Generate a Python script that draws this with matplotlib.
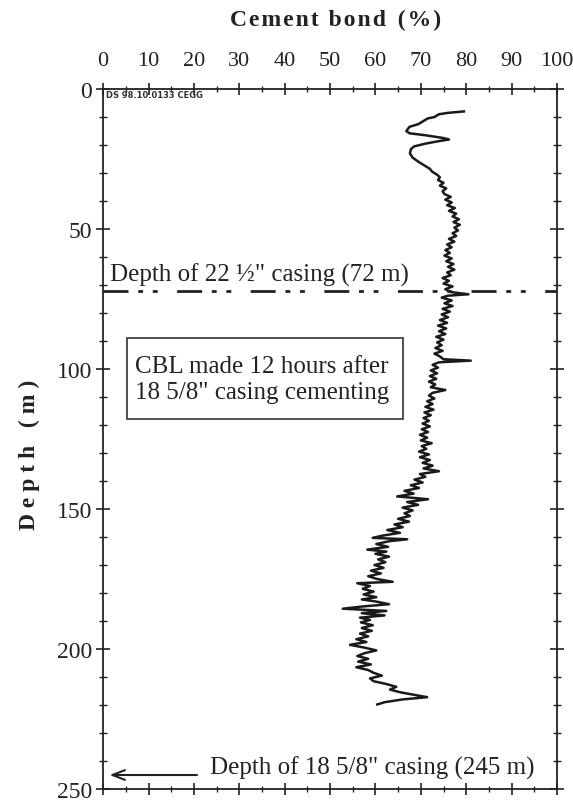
import matplotlib
matplotlib.use("Agg")
import matplotlib.pyplot as plt
from matplotlib.ticker import MultipleLocator
from matplotlib.patches import Rectangle

plt.rcParams['font.family'] = ['Liberation Serif', 'DejaVu Serif']
plt.rcParams['lines.scale_dashes'] = False

depth = [8.0, 8.5, 9.0, 10.0, 10.5, 11.5, 12.5, 13.5, 15.0, 15.8,
         16.5, 17.5, 18.0, 18.6, 19.5, 20.5, 21.5, 23.0, 24.5, 26.0,
         27.5, 28.5, 29.5, 30.5, 31.5, 32.5, 33.5, 34.5, 35.5, 36.5,
         37.5, 38.5, 39.5, 40.5, 41.5, 42.5, 43.5, 44.5, 45.5, 46.5,
         47.5, 48.5, 49.5, 50.5, 51.5, 52.5, 53.5, 54.5, 55.5, 56.5,
         57.5, 58.5, 59.5, 60.5, 61.5, 62.5, 63.5, 64.5, 65.5, 66.5,
         67.5, 68.5, 69.5, 70.5, 71.5, 72.5, 73.3, 73.8, 74.5, 75.5,
         76.5, 77.5, 78.5, 79.5, 80.5, 81.5, 82.5, 83.5, 84.5, 85.5,
         86.5, 87.5, 88.5, 89.5, 90.5, 91.5, 92.5, 93.5, 94.5, 95.5,
         96.5, 97.0, 97.6, 98.5, 99.5, 100.5, 101.5, 102.5, 103.5, 104.5,
         105.5, 106.5, 107.5, 108.5, 109.5, 110.5, 111.5, 112.5, 113.5, 114.5,
         115.5, 116.5, 117.5, 118.5, 119.5, 120.5, 121.5, 122.5, 123.5, 124.5,
         125.5, 126.5, 127.5, 128.5, 129.5, 130.5, 131.5, 132.5, 133.5, 134.5,
         135.5, 136.5, 137.5, 138.5, 139.5, 140.5, 141.5, 142.5, 143.5, 144.5,
         145.5, 146.5, 147.5, 148.5, 149.5, 150.5, 151.5, 152.5, 153.5, 154.5,
         155.5, 156.5, 157.5, 158.5, 159.5, 160.3, 160.8, 161.5, 162.5, 163.5,
         164.5, 165.2, 166.0, 167.0, 168.0, 169.0, 170.0, 171.0, 172.0, 173.0,
         174.0, 175.0, 176.0, 176.5, 177.5, 178.5, 179.5, 180.5, 181.5, 182.3,
         183.0, 184.0, 184.8, 185.6, 186.4, 187.2, 188.0, 188.8, 189.6, 190.5,
         191.5, 192.5, 193.5, 194.5, 195.5, 196.5, 197.5, 198.5, 199.5, 200.5,
         201.5, 202.5, 203.5, 204.5, 205.5, 206.5, 207.5, 208.5, 209.5, 210.5,
         211.5, 212.5, 213.5, 214.5, 215.5, 216.5, 217.2, 218.0, 219.0, 219.8]
bond = [79.5, 76.0, 74.0, 73.0, 71.5, 70.5, 69.5, 67.5, 66.8, 67.5,
        71.0, 75.0, 76.2, 74.0, 71.0, 68.5, 67.8, 67.6, 68.2, 69.5,
        71.0, 72.0, 72.5, 73.5, 74.2, 73.8, 75.0, 74.2, 75.6, 74.8,
        75.2, 76.6, 75.4, 76.8, 75.8, 77.5, 76.2, 77.8, 77.0, 78.4,
        77.2, 78.6, 77.4, 78.2, 77.0, 77.8, 76.2, 77.4, 75.8, 76.8,
        75.4, 76.4, 75.2, 76.8, 75.6, 77.2, 76.0, 77.4, 75.8, 76.6,
        74.8, 76.2, 75.0, 77.0, 75.4, 76.6, 80.5, 76.0, 74.6, 76.8,
        75.2, 77.0, 74.8, 76.4, 74.6, 76.0, 74.2, 75.8, 73.8, 75.6,
        74.0, 75.4, 73.4, 75.0, 73.6, 74.6, 73.2, 74.8, 73.0, 74.2,
        75.0, 81.0, 74.0, 72.6, 73.8, 72.2, 73.6, 72.0, 73.4, 71.8,
        73.2, 72.2, 75.4, 72.6, 71.8, 73.0, 71.4, 72.6, 71.0, 72.8,
        70.8, 72.2, 70.6, 71.8, 70.4, 72.0, 70.2, 71.6, 69.8, 71.4,
        70.0, 72.4, 70.2, 71.2, 69.6, 71.8, 69.8, 72.0, 70.4, 72.6,
        70.6, 74.0, 69.8, 71.0, 68.6, 70.4, 67.8, 69.6, 66.4, 68.4,
        64.8, 71.6, 67.0, 69.4, 66.0, 68.2, 66.4, 67.6, 65.0, 67.4,
        64.2, 66.0, 62.6, 65.4, 61.6, 59.4, 67.0, 63.0, 60.2, 62.8,
        58.2, 62.4, 60.0, 63.0, 60.6, 62.2, 59.8, 61.8, 59.0, 61.2,
        58.4, 60.4, 63.8, 56.0, 58.8, 57.2, 59.6, 57.4, 60.2, 57.0,
        60.0, 63.0, 57.2, 52.8, 62.4, 57.0, 62.0, 56.6, 58.8, 56.8,
        59.4, 57.0, 59.2, 56.6, 58.4, 55.8, 58.0, 54.4, 57.6, 60.2,
        57.6, 56.0, 58.4, 56.2, 59.0, 55.8, 58.4, 59.6, 61.4, 58.8,
        59.6, 62.4, 64.6, 63.2, 65.6, 69.0, 71.4, 66.0, 62.0, 60.4]

casing_22 = 72    # m
casing_18 = 245   # m


def spaced(s, sep='\u200a'):
    # letter-spaced heading text
    return sep.join(s)


fig = plt.figure(figsize=(5.73, 8.04), dpi=100)
ax = fig.add_axes([0.180, 0.0174, 0.792, 0.8706])

ax.plot(bond, depth, color='#1a1a1a', lw=1.8)

ax.set_xlim(0, 100)
ax.set_ylim(250, 0)

# bond scale on top, plain ticks at the bottom
ax.xaxis.tick_top()
ax.xaxis.set_major_locator(MultipleLocator(10))
ax.xaxis.set_minor_locator(MultipleLocator(5))
ax.yaxis.set_major_locator(MultipleLocator(50))
ax.yaxis.set_minor_locator(MultipleLocator(10))
ax.tick_params(axis='x', which='both', top=True, bottom=True, direction='inout',
               labelsize=16, pad=9, colors='#222')
ax.tick_params(axis='x', which='major', length=9, width=1.2)
ax.tick_params(axis='x', which='minor', length=5, width=1.0)
ax.tick_params(axis='y', which='both', left=True, right=True, direction='inout',
               labelsize=17, pad=3, colors='#222')
ax.tick_params(axis='y', which='major', length=10, width=1.2)
ax.tick_params(axis='y', which='minor', length=6, width=1.0)
for s in ax.spines.values():
    s.set_linewidth(1.3)
    s.set_color('#222')

fig.text(0.585, 0.975, spaced('Cement bond') + '  ' + spaced('(%)'),
         ha='center', va='center', fontsize=17, fontweight='bold', color='#222')
fig.text(0.052, 0.434, 'D e p t h   ( m )', ha='center', va='center',
         rotation=90, fontsize=17, fontweight='bold', color='#222')

ax.text(0.6, 2.0, 'DS 98.10.0133 CEGG', ha='left', va='center',
        fontsize=6, fontweight='bold', family='DejaVu Sans', color='#333')

# depth of 22 1/2" casing
ax.axhline(casing_22, color='#222', lw=2.0,
           linestyle=(0, (18, 7, 3.5, 7, 3.5, 14)))
ax.text(1.5, casing_22 - 1.5, 'Depth of 22 \u00bd" casing (%d m)' % casing_22,
        ha='left', va='bottom', fontsize=18, color='#222')

ax.add_patch(Rectangle((5.3, 89), 60.7, 29, fill=False, ec='#333', lw=1.2))
ax.text(7, 103.5, 'CBL made 12 hours after\n18 5/8" casing cementing',
        ha='left', va='center', fontsize=18, color='#222', linespacing=1.25)

# depth of 18 5/8" casing, below end of the log
ax.annotate('', xy=(0.8, casing_18), xytext=(21.3, casing_18),
            arrowprops=dict(arrowstyle='->,head_length=0.9,head_width=0.35',
                            color='#222', lw=1.5))
ax.text(23.5, casing_18 + 1.5, 'Depth of 18 5/8" casing (%d m)' % casing_18,
        ha='left', va='bottom', fontsize=18, color='#222')

fig.savefig('out.png', dpi=100)
